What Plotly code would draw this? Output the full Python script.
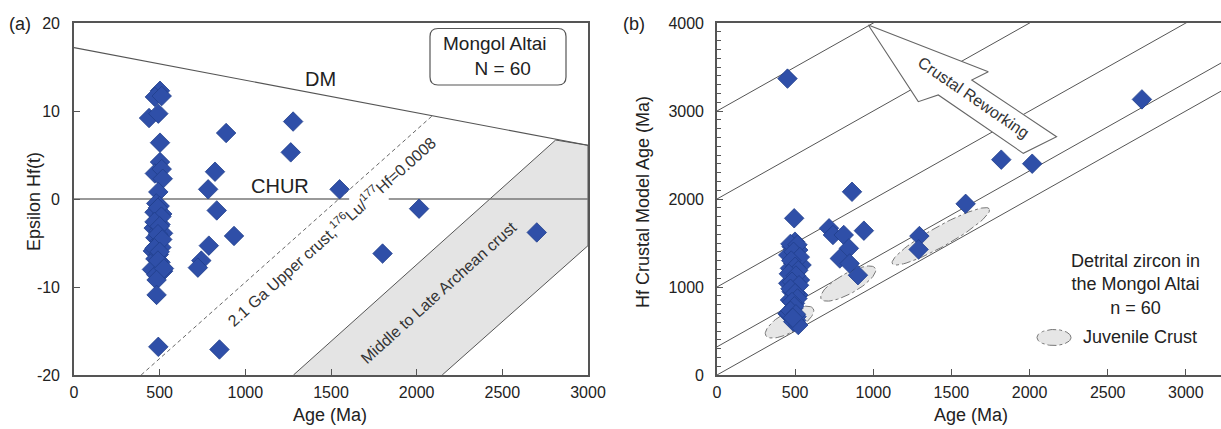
import numpy as np
import plotly.graph_objects as go

# ---------------- data ----------------
# Panel (a): U-Pb age vs epsilon Hf(t)
age_a = [502, 472, 512, 438, 492, 502, 502, 472, 512, 518, 492,
         480, 500, 470, 515, 490, 505, 465, 495, 520, 475, 500, 485, 510, 460, 495,
         475, 505, 485, 455, 520, 480, 490, 510, 470, 500, 490, 515, 470, 500, 490, 525,
         482, 482, 492,
         888, 1279, 1265, 823, 783, 833, 934, 787, 743, 723, 1550, 2014, 1801, 2701, 849]
eps_a = [12.3, 11.6, 11.7, 9.2, 9.7, 6.4, 4.2, 2.9, 3.4, 2.3, 0.8,
         -0.5, -0.8, -1.5, -1.7, -2.3, -2.9, -3.3, -3.6, -3.9, -4.4, -4.8, -5.3, -5.5, -5.9, -6.3,
         -6.8, -7.2, -7.6, -8.0, -8.2, -8.6, -1.0, -2.0, -2.6, -3.1, -4.0, -4.6, -5.6, -6.0, -7.0, -7.9,
         -9.2, -10.9, -16.8,
         7.5, 8.8, 5.3, 3.1, 1.1, -1.3, -4.2, -5.3, -7.0, -7.8, 1.1, -1.1, -6.2, -3.8, -17.1]

# Panel (b): U-Pb age vs Hf crustal model age
age_b = [451, 2719, 1819, 2017, 864, 1591, 494, 717, 742, 811, 940, 844, 786, 849, 902, 1295, 1290, 451, 507,
         499, 478, 520, 456, 509, 488, 541, 467, 509, 488, 531, 456, 499, 478, 520, 467, 499, 488, 456, 509, 488, 520,
         470, 515, 490, 530, 475, 500, 520, 460, 505, 480, 525, 470, 500, 515, 480, 495, 470, 505, 485]
tdm_b = [3368, 3132, 2447, 2401, 2082, 1945, 1781, 1667, 1591, 1591, 1640, 1439, 1324, 1267, 1134, 1579, 1427, 696, 620,
         1515, 1458, 1420, 1364, 1326, 1269, 1250, 1212, 1174, 1117, 1080, 1042, 1004, 947, 909, 852, 814, 758, 701, 663, 606, 568,
         1490, 1480, 1400, 1340, 1300, 1230, 1190, 1150, 1130, 1060, 1020, 980, 930, 870, 830, 780, 730, 690, 650]

# reference lines, panel (a)
dm_age = [0, 3000]
dm_eps = [17.2, 6.1]
chur_left_age = [0, 1606]
chur_right_age = [1837, 3000]
upper_crust_age = [392, 2088]
upper_crust_eps = [-20, 9.4]
archean_age = [1281, 2811, 3000, 3000, 2149]
archean_eps = [-20, 6.7, 6.1, -5.3, -20]

# reference lines, panel (b): model age = intercept + age
ref_intercepts = [0, 320, 1000, 2000, 3000]
# juvenile crust ellipses: centre age, centre model age, half-length (Ma along line)
juv_age = [464, 839.5, 1432.5]
juv_tdm = [601, 1039, 1576]
juv_half = [152, 173.5, 310.5]
# crustal reworking arrow outline
arrow_age = [968, 1288, 1416, 1960, 2173, 1630, 1736, 968]
arrow_tdm = [3977, 3106, 3182, 2519, 2708, 3352, 3447, 3977]

# ---------------- layout frame (pixels) ----------------
W, H = 1221, 429
A_L, A_R = 74, 588
B_L, B_R = 717, 1221
P_T, P_B = 23, 375
XB_MAX = 3225

def px(x):
    return x / W

def py(y):
    return 1 - y / H

FONT = "Liberation Sans, Arial, sans-serif"
BLUE = "#2f4fa8"
BLUE_EDGE = "#213f8c"
AX = "#555555"
TXT = "#222222"

fig = go.Figure()

# ----- panel (a) -----
fig.add_trace(go.Scatter(x=archean_age, y=archean_eps, mode="lines", fill="toself",
                         fillcolor="#e4e4e4", line=dict(color="#555", width=1),
                         xaxis="x", yaxis="y", hoverinfo="skip"))
fig.add_trace(go.Scatter(x=dm_age, y=dm_eps, mode="lines", line=dict(color="#555", width=1.1),
                         xaxis="x", yaxis="y", hoverinfo="skip"))
for seg in (chur_left_age, chur_right_age):
    fig.add_trace(go.Scatter(x=seg, y=[0, 0], mode="lines", line=dict(color="#777", width=1.6),
                             xaxis="x", yaxis="y", hoverinfo="skip"))
fig.add_trace(go.Scatter(x=upper_crust_age, y=upper_crust_eps, mode="lines",
                         line=dict(color="#666", width=1, dash="4px,3px"),
                         xaxis="x", yaxis="y", hoverinfo="skip"))
fig.add_trace(go.Scatter(x=age_a, y=eps_a, mode="markers",
                         marker=dict(symbol="diamond", size=15, color=BLUE,
                                     line=dict(color=BLUE_EDGE, width=0.8)),
                         xaxis="x", yaxis="y"))

# ----- panel (b) -----
sx = (B_R - B_L) / XB_MAX
sy = (P_B - P_T) / 4000.0
for b0 in ref_intercepts:
    fig.add_trace(go.Scatter(x=[0, XB_MAX], y=[b0, b0 + XB_MAX], mode="lines",
                             line=dict(color="#555", width=1), xaxis="x2", yaxis="y2",
                             hoverinfo="skip"))

# ellipses built in pixel space and mapped back to data
u = np.array([sx, sy]) / np.hypot(sx, sy)
v = np.array([-u[1], u[0]])
phi = np.linspace(0, 2 * np.pi, 80)
minor_px = 10
for ca, ct, hl in zip(juv_age, juv_tdm, juv_half):
    a_px = hl * np.hypot(sx, sy)
    dx = a_px * np.cos(phi) * u[0] + minor_px * np.sin(phi) * v[0]
    dy = a_px * np.cos(phi) * u[1] + minor_px * np.sin(phi) * v[1]
    fig.add_trace(go.Scatter(x=ca + dx / sx, y=ct + dy / sy, mode="lines", fill="toself",
                             fillcolor="#e6e6e6", line=dict(color="#777", width=1, dash="dashdot"),
                             xaxis="x2", yaxis="y2", hoverinfo="skip"))

# legend ellipse
leg_cx, leg_cy = (1054 - B_L) / sx, (P_B - 337.5) / sy
fig.add_trace(go.Scatter(x=leg_cx + 17 / sx * np.cos(phi), y=leg_cy + 8 / sy * np.sin(phi),
                         mode="lines", fill="toself", fillcolor="#e6e6e6",
                         line=dict(color="#777", width=1, dash="dashdot"),
                         xaxis="x2", yaxis="y2", hoverinfo="skip"))

fig.add_trace(go.Scatter(x=arrow_age, y=arrow_tdm, mode="lines", fill="toself", fillcolor="white",
                         line=dict(color="#666", width=1.1), xaxis="x2", yaxis="y2",
                         hoverinfo="skip"))

fig.add_trace(go.Scatter(x=age_b, y=tdm_b, mode="markers",
                         marker=dict(symbol="diamond", size=15, color=BLUE,
                                     line=dict(color=BLUE_EDGE, width=0.8)),
                         xaxis="x2", yaxis="y2"))

# ---------------- axes ----------------
common = dict(showgrid=False, zeroline=False, showline=True, linecolor=AX, linewidth=1.6,
              mirror=True, ticks="inside", tickcolor=AX, ticklen=6, tickwidth=1, automargin=False,
              tickfont=dict(family=FONT, size=16, color=TXT))

fig.update_layout(
    template="none",
    width=W, height=H, margin=dict(l=0, r=0, t=0, b=0, pad=0),
    paper_bgcolor="white", plot_bgcolor="white", showlegend=False,
    xaxis=dict(domain=[px(A_L), px(A_R)], range=[0, 3000], tickmode="linear", tick0=0, dtick=500,
               anchor="y", ticklabelstandoff=2, **common),
    yaxis=dict(domain=[py(P_B), py(P_T)], range=[-20, 20], tickvals=[-20, -10, 0, 10, 20],
               ticktext=["-20", "-10", "0", "10", "20"], anchor="x", ticklabelstandoff=9, **common),
    xaxis2=dict(domain=[px(B_L), 1.0], range=[0, XB_MAX], tickmode="linear", tick0=0, dtick=500,
                anchor="y2", ticklabelstandoff=2, **common),
    yaxis2=dict(domain=[py(P_B), py(P_T)], range=[0, 4000], tickmode="linear", tick0=0, dtick=1000,
                anchor="x2", ticklabelstandoff=8, **common),
    # minor ticks of panel (b) y axis, drawn by an overlaying axis
    yaxis3=dict(domain=[py(P_B), py(P_T)], range=[0, 4000], overlaying="y2", anchor="x2",
                tickmode="linear", tick0=0, dtick=100, ticks="inside", ticklen=4, tickwidth=1,
                tickcolor=AX, showticklabels=False, showline=False, showgrid=False, zeroline=False,
                automargin=False),
)
fig.add_trace(go.Scatter(x=[None], y=[None], xaxis="x2", yaxis="y3", hoverinfo="skip"))

# ---------------- text ----------------
ann = []

def txt(text, x, y, xref="paper", yref="paper", size=15, angle=0, xanchor="center", yanchor="middle", color=TXT):
    ann.append(dict(text=text, x=x, y=y, xref=xref, yref=yref, showarrow=False, textangle=angle,
                    xanchor=xanchor, yanchor=yanchor, font=dict(family=FONT, size=size, color=color)))

txt("(a)", px(20), py(24), size=18)
txt("(b)", px(634), py(24), size=18)
txt("Epsilon Hf(t)", px(34), py(202), size=18, angle=-90)
txt("Hf Crustal Model Age (Ma)", px(643), py(202), size=18, angle=-90)
txt("Age (Ma)", px(330), py(415), size=18)
txt("Age (Ma)", px(971), py(415), size=18)

txt("DM", 1436, 13.6, "x", "y", size=20)
txt("CHUR", 1205, 1.5, "x", "y", size=20)
txt("2.1 Ga Upper crust,<sup>176</sup>Lu/<sup>177</sup>Hf=0.0008", 1500, -3.6, "x", "y", size=16, angle=-42, color="#333")
txt("Middle to Late Archean crust", 2129, -10.6, "x", "y", size=16, angle=-42, color="#333")
txt("Mongol Altai<br>   N = 60", 2460, 16.2, "x", "y", size=19)

txt("Crustal Reworking", 1640, 3150, "x2", "y2", size=16, angle=34.5, color="#333")
txt("Detrital zircon in<br>the Mongol Altai<br>n = 60", px(1135), py(284), size=18)
txt("Juvenile Crust", px(1081), py(337), size=18, xanchor="left")

fig.update_layout(annotations=ann)

# rounded box around "Mongol Altai"
x0, x1 = (430 - A_L) / ((A_R - A_L) / 3000), (566 - A_L) / ((A_R - A_L) / 3000)
y0, y1 = 20 - (85 - P_T) / ((P_B - P_T) / 40), 20 - (28.5 - P_T) / ((P_B - P_T) / 40)
rx, ry = 8 / ((A_R - A_L) / 3000), 8 / ((P_B - P_T) / 40)
path = (f"M {x0+rx},{y0} L {x1-rx},{y0} Q {x1},{y0} {x1},{y0+ry} L {x1},{y1-ry} Q {x1},{y1} {x1-rx},{y1} "
        f"L {x0+rx},{y1} Q {x0},{y1} {x0},{y1-ry} L {x0},{y0+ry} Q {x0},{y0} {x0+rx},{y0} Z")
fig.add_shape(type="path", path=path, xref="x", yref="y", line=dict(color="#555", width=1.2),
              fillcolor="white", layer="below")

fig.write_html("out.html", config={"displayModeBar": False},
               post_script="document.body.style.margin='0px';document.body.style.padding='0px';")
